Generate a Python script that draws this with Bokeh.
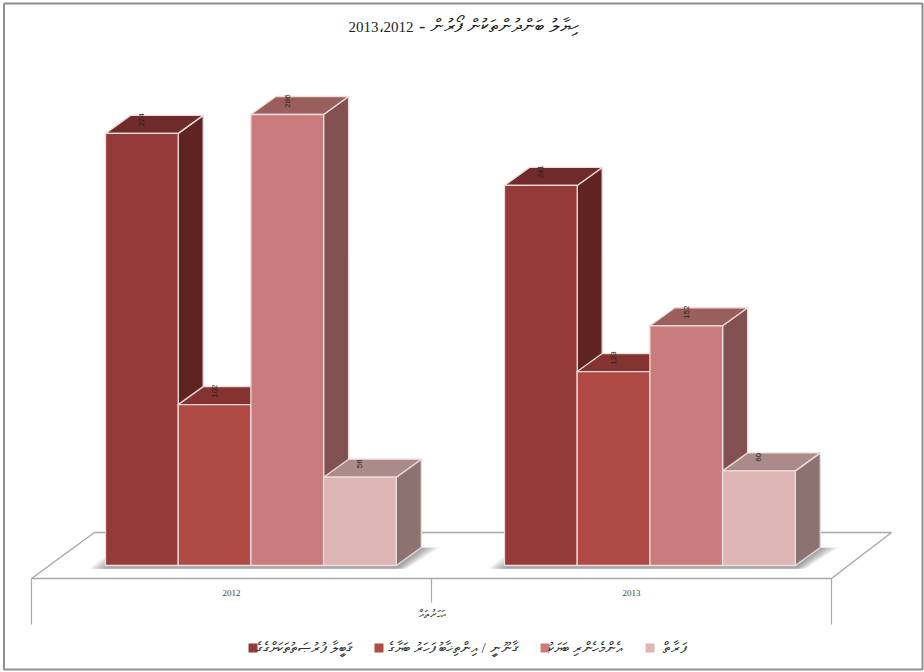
from bokeh.plotting import figure
from bokeh.embed import file_html
from bokeh.resources import INLINE
from bokeh.core.properties import value

years = ["2012", "2013"]
series_names = ["ޤަބީލާ ފުރުޞަތުތަކަށްގެގެ", "ޤާނޫނީ / އިންތިޚާބު ފަހަރު ބަޔާގެ", "އެންމެހެންރި ބަޔަކު", "ފަރާތް"]
values_2012 = [274, 102, 286, 56]
values_2013 = [241, 123, 152, 60]
title_thaana = "- ހިޔާލު ބަންދުންތަކުން ފޯރުން"
title_years = "2013،2012"
axis_title = "އަހަރުތައް"

front = ["#943a38", "#b04a45", "#c97c7b", "#deb6b5"]
top = ["#6e2b2a", "#843331", "#9a5f5d", "#ab8b8a"]
side = ["#5f2422", "#733030", "#805150", "#8c7372"]
edge = "#eddcdb"

W, H = 924, 672
BASE_PX, PX_PER_VAL = 565, 1.577
BAR_PX, X0_PX = 72.7, 105
xr = (-X0_PX / BAR_PX, (W - X0_PX) / BAR_PX)
yr = (-(H - BASE_PX) / PX_PER_VAL, BASE_PX / PX_PER_VAL)

def X(px):
    return xr[0] + px / BAR_PX

def Y(py):
    return (BASE_PX - py) / PX_PER_VAL

DX, DY = 25 / BAR_PX, 18 / PX_PER_VAL
GROUP_STARTS = [0, (504 - X0_PX) / BAR_PX]

p = figure(width=W, height=H, x_range=xr, y_range=yr, output_backend="svg",
           toolbar_location=None, min_border=0, outline_line_color=None,
           background_fill_color="white", border_fill_color="white")
p.axis.visible = False
p.grid.visible = False

GREY = "#a9a9a9"
def poly(xs, ys, **kw):
    p.patch([X(v) for v in xs], [Y(v) for v in ys], **kw)
def seg(xs, ys, color=GREY, width=1.5):
    p.line([X(v) for v in xs], [Y(v) for v in ys], line_color=color, line_width=width)

# chart border
seg([3.5, 922, 922, 3.5, 3.5], [3, 3, 669, 669, 3], "#8f8f8f", 2)
# floor and axis box
seg([31, 94, 891, 831, 31], [578, 532, 532, 578, 578])
seg([31, 31], [578, 624], width=1.2)
seg([431, 431], [578, 602], width=1.2)
seg([831, 831], [578, 624], width=1.2)

# shadows under the bars
for start, vals in zip(GROUP_STARTS, [values_2012, values_2013]):
    x0 = start
    x1 = start + len(vals)
    for k in range(8):
        a = k * 2.2 / BAR_PX
        p.patch([x0 - 16 / BAR_PX + a, x0 - 2 / BAR_PX + a, x1 + DX + 18 / BAR_PX - a, x1 + 10 / BAR_PX - a * 0.6, x0],
                [-2.0, 5.0, DY, -2.0, -2.0],
                fill_color="#444444", fill_alpha=0.075, line_color=None)

# bars, back to front
for start, vals in zip(GROUP_STARTS, [values_2012, values_2013]):
    for i, v in enumerate(vals):
        x0, x1 = start + i, start + i + 1
        lw = dict(line_color=edge, line_width=1.3, line_join="round")
        p.patch([x1, x1 + DX, x1 + DX, x1], [0, DY, v + DY, v], fill_color=side[i], **lw)
        p.patch([x0, x0 + DX, x1 + DX, x1], [v, v + DY, v + DY, v], fill_color=top[i], **lw)
        p.patch([x0, x1, x1, x0], [0, 0, v, v], fill_color=front[i], **lw)
        p.text([x0 + 0.5], [v + DY * 0.75], text=[str(v)], angle=1.5708,
               text_align="center", text_baseline="middle", text_font=value("Liberation Sans"),
               text_font_size="8px", text_color="#222222")

SERIF = value("Liberation Serif")
p.text([X(413)], [Y(26)], text=[title_years], text_align="right", text_baseline="middle",
       text_font=SERIF, text_font_size="15px", text_color="#222222")
p.text([X(578)], [Y(25)], text=[title_thaana], text_align="right", text_baseline="middle",
       text_font=SERIF, text_font_size="19px", text_color="#222222")

for year, cx in zip(years, [231, 631]):
    p.text([X(cx)], [Y(592)], text=[year], text_align="center", text_baseline="middle",
           text_font=SERIF, text_font_size="9px", text_color="#444444")
p.text([X(431)], [Y(613)], text=[axis_title], text_align="center", text_baseline="middle",
       text_font=SERIF, text_font_size="11px", text_color="#444444")

legend_x = [248, 374, 540, 645]
legend_text_right = [352, 518, 622, 685]
for name, lx, rx, c in zip(series_names, legend_x, legend_text_right, front):
    poly([lx, lx + 9, lx + 9, lx], [643, 643, 652, 652], fill_color=c, line_color=None)
    p.text([X(rx)], [Y(647)], text=[name], text_align="right", text_baseline="middle",
           text_font=SERIF, text_font_size="15px", text_color="#333333")

open("out.html", "w").write(file_html(p, INLINE))
